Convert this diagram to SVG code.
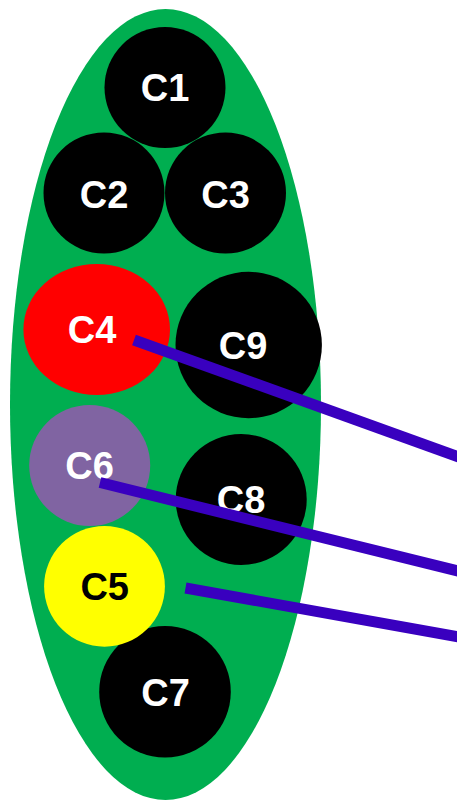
<svg xmlns="http://www.w3.org/2000/svg" width="457" height="800" viewBox="0 0 457 800">
<style>
.lbl{font-family:"Liberation Sans",Arial,sans-serif;font-weight:bold;font-size:38px;text-anchor:middle;fill:#ffffff}
.dark{fill:#000000}
.conn{stroke:#3900bf;stroke-width:11;fill:none;stroke-linecap:butt}
</style>
<rect width="457" height="800" fill="#ffffff"/>
<g id="container"><ellipse cx="165.5" cy="404.5" rx="155.5" ry="395.5" fill="#00ae50"/></g>
<g id="C1"><circle cx="165" cy="87.5" r="60.5" fill="#000"/><text class="lbl" x="165" y="101">C1</text></g>
<g id="C2"><circle cx="104" cy="193" r="60.5" fill="#000"/><text class="lbl" x="104" y="207.5">C2</text></g>
<g id="C3"><circle cx="225.5" cy="193" r="60.5" fill="#000"/><text class="lbl" x="225.5" y="207.5">C3</text></g>
<g id="C4"><ellipse cx="96.7" cy="329.5" rx="73.3" ry="65.5" fill="#ff0000"/><text class="lbl" x="92" y="343">C4</text></g>
<g id="C9"><circle cx="248.7" cy="345" r="73.2" fill="#000"/><text class="lbl" x="243" y="359">C9</text></g>
<g id="C6"><circle cx="89.7" cy="465.5" r="60.5" fill="#8064a2"/><text class="lbl" x="89.5" y="479">C6</text></g>
<g id="C8"><circle cx="241.2" cy="499.5" r="65.5" fill="#000"/><text class="lbl" x="241" y="512.5">C8</text></g>
<g id="C7"><circle cx="165" cy="691.8" r="65.8" fill="#000"/><text class="lbl" x="165.5" y="706">C7</text></g>
<g id="C5"><circle cx="104.5" cy="586.3" r="60.4" fill="#ffff00"/><text class="lbl dark" x="104.7" y="600">C5</text></g>
<g id="connectors">
<line class="conn" x1="134" y1="340" x2="480" y2="464.6"/>
<line class="conn" x1="100" y1="482.5" x2="480" y2="576.4"/>
<line class="conn" x1="185.5" y1="588" x2="480" y2="640.7"/>
</g>
</svg>
